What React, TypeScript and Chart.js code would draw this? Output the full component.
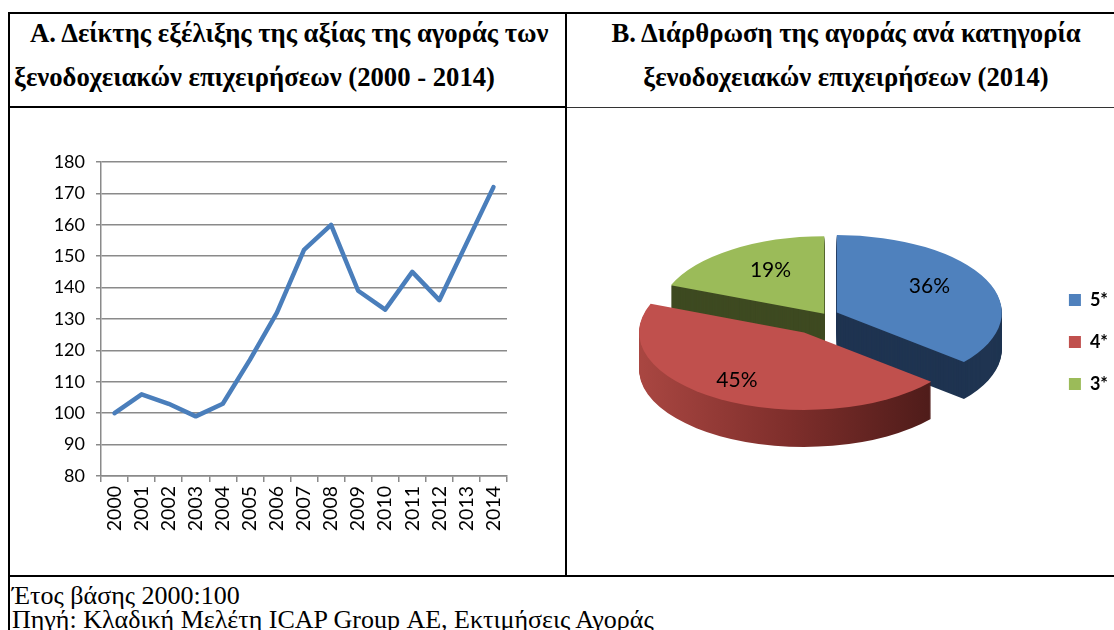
import React, { useEffect, useRef } from "react";
import { Chart, registerables } from "chart.js";

Chart.register(...registerables);

// ---------- data ----------
const YEARS = ["2000", "2001", "2002", "2003", "2004", "2005", "2006", "2007", "2008", "2009", "2010", "2011", "2012", "2013", "2014"];
const INDEX_VALUES = [100, 106, 103, 99, 103, 117, 132, 152, 160, 139, 133, 145, 136, 154, 172];
const Y_MIN = 80;
const Y_MAX = 180;
const Y_STEP = 10;

const CATEGORY_LABELS = ["5*", "4*", "3*"];
const SHARE_VALUES = [36, 45, 19];

// ---------- styles ----------
const LINE_COLOR = "#4A7EBB";
const GRID_COLOR = "#8A8A8A";
const SHARE_COLORS = ["#4F81BD", "#C0504D", "#9BBB59"];
const SIDE_BLUE = "#1F3451";
const SIDE_GREEN = "#3E4A21";
const EXPLODE = [12, 43, 3];
const LABEL_RADIUS = [0.62, 0.8, 0.58];
const TILT = 0.47;
const DEPTH = 37;
const PIE_LIFT = 27;
const LABEL_DY = -6;

const pie3dPlugin = {
  id: "pie3d",
  beforeDatasetsDraw(chart: any) {
    const meta = chart.getDatasetMeta(0);
    const arcs = meta.data as any[];
    if (!arcs || !arcs.length) return;
    const ctx: CanvasRenderingContext2D = chart.ctx;
    const cx = arcs[0].x;
    const cy0 = arcs[0].y;
    const cyT = cy0 - PIE_LIFT;
    const R = arcs[0].outerRadius;

    const proxies = arcs.map((arc, i) => {
      const mid = (arc.startAngle + arc.endAngle) / 2;
      const p = Object.create(arc);
      p.x = arc.x + Math.cos(mid) * EXPLODE[i];
      p.y = arc.y + Math.sin(mid) * EXPLODE[i];
      return p;
    });

    const grad = ctx.createLinearGradient(cx - R - 25, 0, cx + R * 0.72, 0);
    grad.addColorStop(0, "#AA4742");
    grad.addColorStop(0.5, "#7E2E2B");
    grad.addColorStop(1, "#4A1A18");
    const sideFills: any[] = [SIDE_BLUE, grad, SIDE_GREEN];

    const drawLayer = (dy: number, fills: any[]) => {
      ctx.save();
      ctx.translate(cx, cyT + dy);
      ctx.scale(1, TILT);
      ctx.translate(-cx, -cy0);
      proxies.forEach((p, i) => {
        p.options = { ...arcs[i].options, backgroundColor: fills[i], borderWidth: 0, offset: 0 };
        p.draw(ctx);
      });
      ctx.restore();
    };

    for (let d = DEPTH; d >= 1; d -= 1) drawLayer(d, sideFills);
    drawLayer(0, SHARE_COLORS);

    const values = chart.data.datasets[0].data as number[];
    ctx.save();
    ctx.font = "21px Lato";
    ctx.fillStyle = "#000000";
    ctx.textAlign = "center";
    ctx.textBaseline = "middle";
    arcs.forEach((arc, i) => {
      const mid = (arc.startAngle + arc.endAngle) / 2;
      const r = arc.outerRadius * LABEL_RADIUS[i] + EXPLODE[i];
      const ux = arc.x + Math.cos(mid) * r;
      const uy = arc.y + Math.sin(mid) * r;
      const sy = cyT + (uy - cy0) * TILT + LABEL_DY;
      ctx.fillText(`${values[i]}%`, ux, sy);
    });
    ctx.restore();
    return false;
  },
};

function LineChart() {
  const ref = useRef<HTMLCanvasElement | null>(null);
  useEffect(() => {
    if (!ref.current) return;
    const chart = new Chart(ref.current, {
      type: "line",
      data: {
        labels: YEARS,
        datasets: [
          {
            data: INDEX_VALUES,
            borderColor: LINE_COLOR,
            borderWidth: 4.5,
            pointRadius: 0,
            tension: 0,
            fill: false,
            borderJoinStyle: "round",
            borderCapStyle: "round",
          },
        ],
      },
      options: {
        responsive: false,
        animation: false,
        layout: { padding: { left: 0, top: 53, right: 58, bottom: 0 } },
        plugins: { legend: { display: false }, tooltip: { enabled: false } },
        scales: {
          x: {
            offset: true,
            grid: {
              offset: true,
              drawOnChartArea: false,
              drawTicks: true,
              tickLength: 6,
              color: GRID_COLOR,
              lineWidth: 1.5,
            },
            border: { color: GRID_COLOR, width: 1.5 },
            ticks: {
              minRotation: 90,
              maxRotation: 90,
              autoSkip: false,
              padding: 4,
              color: "#000000",
              font: { family: "Lato", size: 19.5 },
            },
            afterFit: (s: any) => {
              s.height = 99;
            },
          },
          y: {
            min: Y_MIN,
            max: Y_MAX,
            ticks: {
              stepSize: Y_STEP,
              padding: 11,
              color: "#000000",
              font: { family: "Lato", size: 18 },
            },
            grid: { color: GRID_COLOR, lineWidth: 1.5, tickLength: 5 },
            border: { color: GRID_COLOR, width: 1.5 },
            afterFit: (s: any) => {
              s.width = 91;
            },
          },
        },
      },
    } as any);
    return () => chart.destroy();
  }, []);
  return <canvas ref={ref} width={555} height={466} style={{ position: "absolute", left: 10, top: 109 }} />;
}

function PieChart() {
  const ref = useRef<HTMLCanvasElement | null>(null);
  useEffect(() => {
    if (!ref.current) return;
    const chart = new Chart(ref.current, {
      type: "pie",
      data: {
        labels: CATEGORY_LABELS,
        datasets: [
          {
            data: SHARE_VALUES,
            backgroundColor: SHARE_COLORS,
            borderWidth: 0,
          },
        ],
      },
      options: {
        responsive: false,
        animation: false,
        radius: 165,
        layout: { padding: { left: 39, top: 0, right: 0, bottom: 0 } },
        plugins: {
          tooltip: { enabled: false },
          legend: {
            position: "right",
            labels: {
              boxWidth: 12,
              boxHeight: 12,
              padding: 24,
              color: "#000000",
              font: { family: "Lato", size: 18, weight: "bold" },
            },
          },
        },
      },
      plugins: [pie3dPlugin],
    } as any);
    return () => chart.destroy();
  }, []);
  return <canvas ref={ref} width={550} height={466} style={{ position: "absolute", left: 568, top: 109 }} />;
}

const line = (style: React.CSSProperties) => (
  <div style={{ position: "absolute", background: "#000", ...style }} />
);

const titleStyle: React.CSSProperties = {
  position: "absolute",
  top: 11,
  fontFamily: "'Liberation Serif'",
  fontWeight: "bold",
  fontSize: 26.7,
  lineHeight: "44px",
  whiteSpace: "nowrap",
};

export default function App() {
  return (
    <div
      style={{
        position: "fixed",
        left: 0,
        top: 0,
        width: 1114,
        height: 630,
        overflow: "hidden",
        background: "#fff",
        fontFamily: "'Liberation Serif'",
        color: "#000",
      }}
    >
      {line({ left: 8, top: 12, width: 2, height: 618 })}
      {line({ left: 8, top: 12, width: 1106, height: 2 })}
      {line({ left: 8, top: 106, width: 559, height: 2 })}
      {line({ left: 567, top: 107, width: 547, height: 1, background: "#333" })}
      {line({ left: 565, top: 12, width: 2, height: 565 })}
      {line({ left: 8, top: 575, width: 1106, height: 2 })}

      <div style={{ ...titleStyle, left: 10, width: 555, paddingLeft: 4 }}>
        <div style={{ textIndent: 16 }}>Α. Δείκτης εξέλιξης της αξίας της αγοράς των</div>
        <div>ξενοδοχειακών επιχειρήσεων (2000 - 2014)</div>
      </div>

      <div style={{ ...titleStyle, left: 566, width: 560, textAlign: "center" }}>
        <div>Β. Διάρθρωση της αγοράς ανά κατηγορία</div>
        <div>ξενοδοχειακών επιχειρήσεων (2014)</div>
      </div>

      <LineChart />
      <PieChart />

      <div
        style={{
          position: "absolute",
          left: 12,
          top: 584,
          fontSize: 26,
          lineHeight: "24px",
          whiteSpace: "nowrap",
        }}
      >
        <div>Έτος βάσης 2000:100</div>
        <div>Πηγή: Κλαδική Μελέτη ICAP Group ΑΕ, Εκτιμήσεις Αγοράς</div>
      </div>
    </div>
  );
}
